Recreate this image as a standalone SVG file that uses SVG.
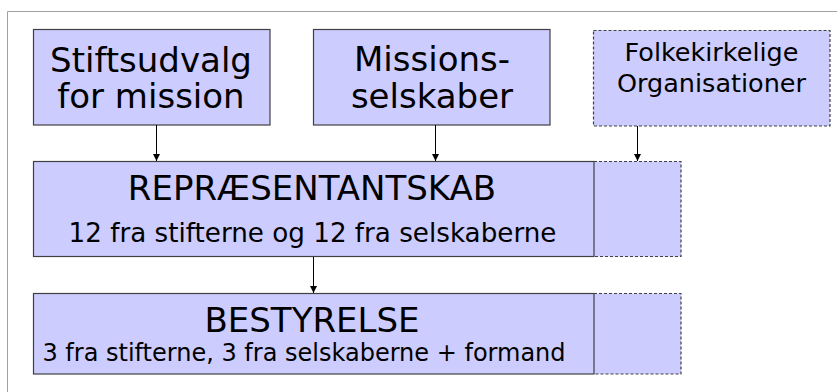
<svg xmlns="http://www.w3.org/2000/svg" width="837" height="392" viewBox="0 0 837 392">
<style>
.box{fill:#CCCCFF;stroke:#404040;stroke-width:1.2}
.dash{fill:#CCCCFF;stroke:#404040;stroke-width:1.2;stroke-dasharray:3,2}
.dfill{fill:#CCCCFF;stroke:none}
.t{font-family:"DejaVu Sans",Verdana,sans-serif;fill:#000;text-anchor:middle}
.big{font-size:34px}
.mid{font-size:25.5px}
.sm{font-size:24px}
.con{stroke:#000;stroke-width:1;fill:none}
</style>
<defs>
<marker id="ah" markerWidth="8" markerHeight="7" refX="7" refY="3.5" orient="auto" markerUnits="userSpaceOnUse">
<path d="M0,0 L7,3.5 L0,7 Z" fill="#000"/>
</marker>
</defs>
<rect width="837" height="392" fill="#fff"/>
<g id="frame">
<path d="M7.5,392 V11.5 H837" fill="none" stroke="#a0a0a0" stroke-width="1"/>
</g>
<g id="stiftsudvalg">
<rect class="box" x="33.5" y="29.5" width="236.5" height="95.5"/>
<text class="t big" x="151" y="71.5">Stiftsudvalg</text>
<text class="t big" x="151" y="108">for mission</text>
</g>
<g id="missionsselskaber">
<rect class="box" x="313.5" y="29.5" width="236.5" height="95.5"/>
<text class="t big" x="432" y="71">Missions-</text>
<text class="t big" x="432" y="107.5">selskaber</text>
</g>
<g id="folkekirkelige">
<rect class="dash" x="593.5" y="30.5" width="236.5" height="95.5"/>
<text class="t mid" x="711.5" y="60.5">Folkekirkelige</text>
<text class="t mid" x="711.5" y="92">Organisationer</text>
</g>
<g id="repraesentantskab">
<path class="dash" d="M594,161.5 H681 V256.5 H594"/>
<rect class="box" x="33.5" y="161.5" width="560.5" height="95"/>
<text class="t big" x="312" y="200">REPRÆSENTANTSKAB</text>
<text class="t" style="font-size:26.2px" x="312.5" y="242">12 fra stifterne og 12 fra selskaberne</text>
</g>
<g id="bestyrelse">
<path class="dash" d="M594,293.5 H681 V374 H594"/>
<rect class="box" x="33.5" y="293.5" width="560.5" height="80.5"/>
<text class="t big" x="312" y="332">BESTYRELSE</text>
<text class="t sm" x="304" y="361">3 fra stifterne, 3 fra selskaberne + formand</text>
</g>
<g id="connectors">
<line class="con" x1="156.5" y1="125" x2="156.5" y2="161" marker-end="url(#ah)"/>
<line class="con" x1="435.5" y1="125" x2="435.5" y2="161" marker-end="url(#ah)"/>
<line class="con" x1="637.5" y1="126" x2="637.5" y2="161" marker-end="url(#ah)"/>
<line class="con" x1="313.5" y1="257" x2="313.5" y2="293" marker-end="url(#ah)"/>
</g>
</svg>
